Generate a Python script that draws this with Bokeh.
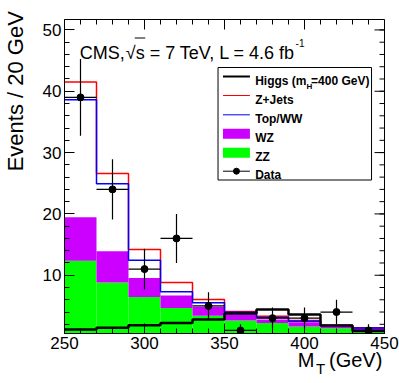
import numpy as np
from bokeh.plotting import figure
from bokeh.models import FixedTicker, LinearAxis, Label
from bokeh.embed import file_html
from bokeh.resources import INLINE

# ---------------- data ----------------
bin_edges = [250, 270, 290, 310, 330, 350, 370, 390, 410, 430, 450]
zz_events = [12.35, 8.8, 6.45, 4.65, 3.4, 2.6, 2.2, 1.65, 1.36, 1.08]
wz_events = [7.1, 5.1, 3.1, 2.05, 1.45, 1.05, 0.6, 0.7, 0.39, 0.27]
topww_events = [19.15, 11.0, 2.9, 0.6, 0.65, 0.3, 0.3, 0.15, 0.05, 0.03]
zjets_events = [2.9, 1.7, 1.75, 1.5, 0.55, 0.15, 0.2, 0.1, 0.05, 0.04]
higgs_events = [1.15, 1.45, 1.85, 2.2, 2.8, 3.75, 4.4, 3.6, 1.8, 0.9]
data_events = [39, 24, 11, 16, 5, 1, 3, 3, 4, 1]
x_major_ticks = [250, 300, 350, 400, 450]
x_minor_ticks = list(range(250, 451, 10))
y_major_ticks = [10, 20, 30, 40, 50]
y_minor_ticks = list(range(2, 52, 2))
legend_labels = ["Higgs (m", "H", "=400 GeV)", "Z+Jets", "Top/WW", "WZ", "ZZ", "Data"]
y_title = "Events / 20 GeV"
x_title_parts = ["M", "T", "(GeV)"]

FONT = "Liberation Sans"
X0, X1 = 250, 450
Y0, Y1 = 0.5, 51.7
W, H = 399, 380

# frame geometry in canvas pixels
FL, FR, FT, FB = 63, 384, 19, 333


def X(px):
    return X0 + (px - FL) * (X1 - X0) / (FR - FL)


def Y(py):
    return Y0 + (FB - py) * (Y1 - Y0) / (FB - FT)


edges = np.array(bin_edges, dtype=float)
left, right = edges[:-1], edges[1:]
centers = (left + right) / 2
cum_zz = np.array(zz_events)
cum_wz = cum_zz + np.array(wz_events)
cum_top = cum_wz + np.array(topww_events)
cum_zj = cum_top + np.array(zjets_events)
higgs = np.array(higgs_events)
data = np.array(data_events, dtype=float)
err = np.sqrt(data)

p = figure(width=W, height=H, x_range=(X0, X1), y_range=(Y0, Y1),
           output_backend="svg", toolbar_location=None,
           min_border_left=FL, min_border_right=W - FR,
           min_border_top=FT, min_border_bottom=H - FB)
p.grid.visible = False
p.background_fill_color = "white"
p.border_fill_color = "white"
p.outline_line_color = "black"
p.outline_line_width = 1

xt = FixedTicker(ticks=x_major_ticks, minor_ticks=x_minor_ticks)
yt = FixedTicker(ticks=y_major_ticks, minor_ticks=y_minor_ticks)

for ax in p.xaxis:
    ax.ticker = xt
for ax in p.yaxis:
    ax.ticker = yt
for ax in list(p.xaxis) + list(p.yaxis):
    ax.major_tick_in = 10
    ax.major_tick_out = 0
    ax.minor_tick_in = 5
    ax.minor_tick_out = 0
    ax.major_label_text_font = FONT
    ax.major_label_text_font_size = "17px"
    ax.major_label_text_color = "black"
    ax.axis_line_color = "black"
    ax.major_tick_line_color = "black"
    ax.minor_tick_line_color = "black"
p.xaxis.major_label_standoff = 3
p.yaxis.major_label_standoff = 3


def title_axis(ticks, texts, size, standoff, vertical=False):
    ax = LinearAxis(ticker=FixedTicker(ticks=ticks),
                    major_label_overrides=dict(zip(ticks, texts)),
                    major_tick_in=0, major_tick_out=0, minor_tick_in=0, minor_tick_out=0,
                    axis_line_color=None, major_label_text_font=FONT,
                    major_label_text_font_size=size, major_label_text_color="black",
                    major_label_standoff=standoff)
    if vertical:
        ax.major_label_orientation = "vertical"
    return ax


# axis titles (as extra, tick-less axes so they sit outside the frame)
p.add_layout(title_axis([40], [y_title], "22px", 11, vertical=True), "left")
p.add_layout(title_axis([401, 432], [x_title_parts[0], x_title_parts[2]], "20px", -3), "below")
p.add_layout(title_axis([410], [x_title_parts[1]], "15px", -14), "below")

# ticks on top and right edges of the frame
tick_y_major = 10 * (Y1 - Y0) / (FB - FT)
tick_y_minor = 5 * (Y1 - Y0) / (FB - FT)
tick_x_major = 10 * (X1 - X0) / (FR - FL)
tick_x_minor = 5 * (X1 - X0) / (FR - FL)
p.segment(x0=x_major_ticks, x1=x_major_ticks, y0=Y1, y1=Y1 - tick_y_major, line_color="black", line_width=1)
p.segment(x0=x_minor_ticks, x1=x_minor_ticks, y0=Y1, y1=Y1 - tick_y_minor, line_color="black", line_width=1)
p.segment(x0=X1, x1=X1 - tick_x_major, y0=y_major_ticks, y1=y_major_ticks, line_color="black", line_width=1)
p.segment(x0=X1, x1=X1 - tick_x_minor, y0=y_minor_ticks, y1=y_minor_ticks, line_color="black", line_width=1)

# ---------------- stacked histogram ----------------
p.quad(left=left, right=right, bottom=0, top=cum_zz, fill_color="#00ff00", line_color=None)
p.quad(left=left, right=right, bottom=cum_zz, top=cum_wz, fill_color="#cc00ff", line_color=None)
p.step(x=edges, y=np.append(cum_zj, cum_zj[-1]), mode="after", line_color="#ff0000", line_width=1.5)
p.step(x=edges, y=np.append(cum_top, cum_top[-1]), mode="after", line_color="#0000ff", line_width=1.5)
p.step(x=edges, y=np.append(higgs, higgs[-1]), mode="after", line_color="black", line_width=2.5)

# data with errors
p.segment(x0=centers, x1=centers, y0=data - err, y1=data + err, line_color="black", line_width=1.2)
p.segment(x0=left, x1=right, y0=data, y1=data, line_color="black", line_width=1.2)
p.scatter(x=centers, y=data, size=7, fill_color="black", line_color="black")

# ---------------- legend ----------------
p.quad(left=X(217), right=X(371), top=Y(67), bottom=Y(179.5), fill_color="white",
       line_color="black", line_width=1)
rows = [76, 95, 114.3, 133.3, 152.3, 170.7]
p.segment(x0=X(222), x1=X(249), y0=Y(rows[0]), y1=Y(rows[0]), line_color="black", line_width=2)
p.segment(x0=X(222), x1=X(249), y0=Y(rows[1]), y1=Y(rows[1]), line_color="#ff0000", line_width=1)
p.segment(x0=X(222), x1=X(249), y0=Y(rows[2]), y1=Y(rows[2]), line_color="#0000ff", line_width=1)
p.quad(left=X(222), right=X(249), top=Y(rows[3] - 5), bottom=Y(rows[3] + 5), fill_color="#cc00ff", line_color=None)
p.quad(left=X(222), right=X(249), top=Y(rows[4] - 5), bottom=Y(rows[4] + 5), fill_color="#00ff00", line_color=None)
p.segment(x0=X(222), x1=X(249), y0=Y(rows[5]), y1=Y(rows[5]), line_color="black", line_width=1)
p.scatter(x=[X(235.5)], y=[Y(rows[5])], size=6, fill_color="black", line_color="black")


def lab(text, px, py, size, style="normal", align="left"):
    p.add_layout(Label(x=X(px), y=Y(py), text=text, text_font=FONT, text_font_size=size,
                       text_font_style=style, text_align=align, text_baseline="alphabetic",
                       text_color="black"))


lab(legend_labels[0], 254.3, rows[0] + 4, "12px", "bold")
lab(legend_labels[1], 305.8, rows[0] + 10, "8px", "bold")
lab(legend_labels[2], 310.3, rows[0] + 4, "12px", "bold")
for t, r in zip(legend_labels[3:], rows[1:]):
    lab(t, 254.3, r + 4, "12px", "bold")

# title: CMS, sqrt(s) = 7 TeV, L = 4.6 fb^-1
lab("CMS,", 78.3, 52, "18px")
lab("\u221as", 143.5, 52, "18px", align="right")
p.segment(x0=X(133.5), x1=X(144), y0=Y(37.5), y1=Y(37.5), line_color="black", line_width=1)
lab("= 7 TeV, L = 4.6 fb", 294.3, 52, "18px", align="right")
lab("-1", 294.8, 42, "10px")

open("out.html", "w").write(file_html(p, INLINE))
